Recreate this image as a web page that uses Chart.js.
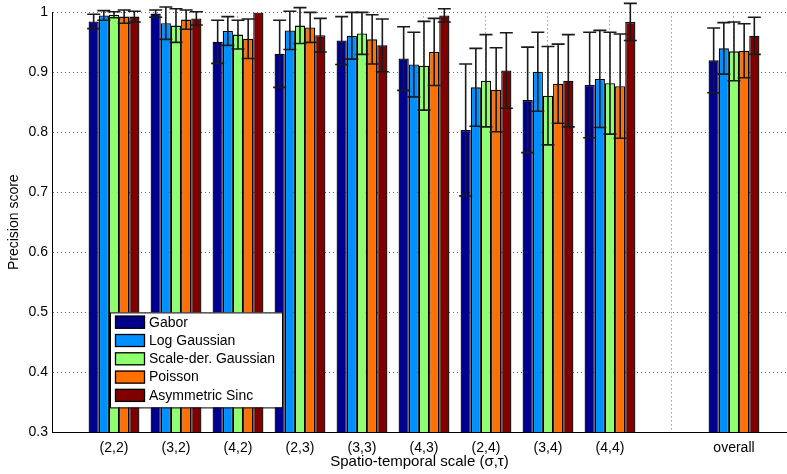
<!DOCTYPE html>
<html><head><meta charset="utf-8">
<script src="https://cdn.jsdelivr.net/npm/chart.js@4.4.0/dist/chart.umd.min.js"></script>
<style>html,body{margin:0;padding:0;background:#fff;overflow:hidden}#wrap{width:787px;height:474px;position:relative}</style>
</head><body><div id="wrap"><canvas id="c"></canvas></div>
<script>
// ---- data ----
const categories = ['(2,2)','(3,2)','(4,2)','(2,3)','(3,3)','(4,3)','(2,4)','(3,4)','(4,4)','overall'];
const slotPositions = [1,2,3,4,5,6,7,8,9,11];   // slot index of each category (slot 10 is left empty)
const seriesNames = ['Gabor','Log Gaussian','Scale-der. Gaussian','Poisson','Asymmetric Sinc'];
const seriesColors = ['#00008F','#008FFF','#8FFF70','#FF7000','#800000'];

const gabor       = [0.985, 0.998, 0.951, 0.931, 0.953, 0.923, 0.804, 0.854, 0.879, 0.920];
const gaborErr    = [0.012, 0.006, 0.036, 0.056, 0.040, 0.053, 0.110, 0.088, 0.088, 0.054];
const logGauss    = [0.995, 0.982, 0.969, 0.970, 0.961, 0.913, 0.875, 0.901, 0.889, 0.940];
const logGaussErr = [0.008, 0.027, 0.024, 0.032, 0.039, 0.054, 0.065, 0.066, 0.081, 0.043];
const scaleDer    = [0.996, 0.978, 0.963, 0.978, 0.965, 0.911, 0.886, 0.861, 0.882, 0.935];
const scaleDerErr = [0.005, 0.028, 0.024, 0.030, 0.035, 0.074, 0.077, 0.082, 0.085, 0.049];
const poisson     = [0.993, 0.988, 0.956, 0.975, 0.955, 0.934, 0.871, 0.881, 0.877, 0.936];
const poissonErr  = [0.011, 0.016, 0.033, 0.025, 0.041, 0.056, 0.070, 0.066, 0.087, 0.045];
const asymSinc    = [0.993, 0.990, 1.000, 0.962, 0.945, 0.995, 0.903, 0.886, 0.984, 0.961];
const asymSincErr = [0.009, 0.011, 0.000, 0.028, 0.044, 0.011, 0.063, 0.077, 0.031, 0.031];

const yTickValues = [0.3, 0.4, 0.5, 0.6, 0.7, 0.8, 0.9, 1];
const xTitle = 'Spatio-temporal scale (\u03c3,\u03c4)';
const yTitle = 'Precision score';

// ---- build ----
const allValues = [gabor, logGauss, scaleDer, poisson, asymSinc];
const allErrors = [gaborErr, logGaussErr, scaleDerErr, poissonErr, asymSincErr];
const nSlots = Math.max(...slotPositions) + 1;
const xTickLabels = Array.from({length: nSlots}, (_, s) => {
  const k = slotPositions.indexOf(s); return k >= 0 ? categories[k] : '';
});

Chart.defaults.font.family = "'Liberation Sans', Arial, Helvetica, sans-serif";
Chart.defaults.color = '#000';

const datasets = seriesNames.map((name, si) => ({
  label: name,
  data: allValues[si].map((v, i) => ({x: slotPositions[i], y: v})),
  errors: allErrors[si],
  backgroundColor: seriesColors[si],
  borderColor: '#000',
  borderWidth: 1.3,
  borderSkipped: 'start'
}));

const errorBarPlugin = {
  id: 'errbars',
  afterDatasetsDraw(chart) {
    const ctx = chart.ctx, ys = chart.scales.y;
    chart.data.datasets.forEach((ds, di) => {
      const meta = chart.getDatasetMeta(di);
      meta.data.forEach((bar, i) => {
        const v = ds.data[i].y, e = ds.errors[i];
        if (!e) return;
        const yT = ys.getPixelForValue(v + e), yB = ys.getPixelForValue(v - e);
        const x = bar.x, hw = 6.5;
        ctx.save();
        ctx.strokeStyle = '#1a1a1a'; ctx.lineWidth = 1.6;
        ctx.beginPath();
        ctx.moveTo(x, yT); ctx.lineTo(x, yB);
        ctx.moveTo(x - hw, yT); ctx.lineTo(x + hw, yT);
        ctx.moveTo(x - hw, yB); ctx.lineTo(x + hw, yB);
        ctx.stroke();
        ctx.restore();
      });
    });
  }
};

const legendPlugin = {
  id: 'boxlegend',
  afterDraw(chart) {
    const ctx = chart.ctx, ca = chart.chartArea;
    const x0 = ca.left + 58, y0 = ca.top + 300, w = 172, rowH = 18.3;
    const h = rowH * seriesNames.length + 3.5;
    ctx.save();
    ctx.fillStyle = '#fff'; ctx.fillRect(x0, y0, w, h);
    ctx.strokeStyle = '#000'; ctx.lineWidth = 1;
    ctx.strokeRect(x0 + 0.5, y0 + 0.5, w, h);
    ctx.font = "14px 'Liberation Sans', Arial, sans-serif";
    ctx.textBaseline = 'middle'; ctx.textAlign = 'left';
    seriesNames.forEach((name, i) => {
      const cy = y0 + 9.8 + i * rowH;
      ctx.fillStyle = seriesColors[i];
      ctx.fillRect(x0 + 5, cy - 6.5, 30, 13);
      ctx.strokeStyle = '#000'; ctx.lineWidth = 1.3;
      ctx.strokeRect(x0 + 5.5, cy - 6, 29, 12);
      ctx.fillStyle = '#000';
      ctx.fillText(name, x0 + 39, cy + 0.5);
    });
    ctx.restore();
  }
};

const gridOpts = {drawTicks: false, color: '#6a6a6a', lineWidth: 1, offset: false};
const borderOpts = {display: true, color: '#000', width: 1, dash: [1, 3], z: 1};

new Chart(document.getElementById('c'), {
  type: 'bar',
  data: {datasets},
  plugins: [errorBarPlugin, legendPlugin],
  options: {
    responsive: true, maintainAspectRatio: false, animation: false,
    layout: {padding: {top: 11, right: 0, left: 0, bottom: 0}},
    plugins: {legend: {display: false}, tooltip: {enabled: false}},
    datasets: {bar: {categoryPercentage: 0.82, barPercentage: 1}},
    scales: {
      x: {
        type: 'linear', min: 0, max: 11.855, offset: false,
        afterBuildTicks: a => { a.ticks = xTickLabels.map((_, i) => ({value: i})); },
        afterFit: s => { s.height = 42; },
        ticks: {autoSkip: false, maxRotation: 0, minRotation: 0, padding: 8, font: {size: 14},
                callback: v => xTickLabels[v] ?? ''},
        grid: gridOpts, border: borderOpts,
        title: {display: true, text: xTitle, font: {size: 15}, padding: {top: 0, bottom: 3}}
      },
      y: {
        min: 0.3, max: 1,
        afterBuildTicks: a => { a.ticks = yTickValues.map(v => ({value: v})); },
        afterFit: s => { s.width = 52; },
        ticks: {padding: 4, font: {size: 14}, callback: v => String(Math.round(v * 10) / 10)},
        grid: gridOpts, border: borderOpts,
        title: {display: true, text: yTitle, font: {size: 14}, padding: {top: 6, bottom: 0}}
      }
    }
  }
});
</script></body></html>
